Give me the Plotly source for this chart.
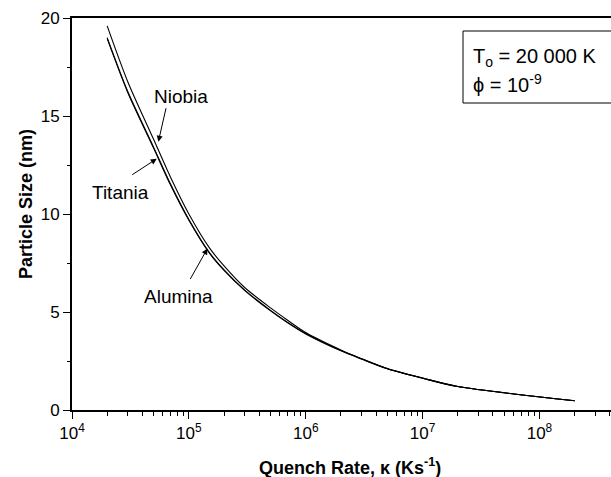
import plotly.graph_objects as go

# Quench rate (K/s)
kappa = [2e4, 3e4, 5e4, 7e4, 1e5, 1.5e5, 2e5, 3e5, 5e5, 7e5,
         1e6, 2e6, 3e6, 5e6, 1e7, 2e7, 2e8]
# Particle size (nm)
niobia = [19.6, 16.75, 13.8, 11.85, 10.0, 8.27, 7.35, 6.25, 5.21, 4.58,
          3.95, 3.06, 2.62, 2.11, 1.63, 1.2, 0.47]
titania = [19.0, 16.25, 13.4, 11.5, 9.72, 8.03, 7.15, 6.12, 5.08, 4.47,
           3.9, 3.03, 2.61, 2.105, 1.625, 1.197, 0.47]
alumina = [18.95, 16.2, 13.35, 11.45, 9.68, 8.0, 7.12, 6.1, 5.06, 4.45,
           3.88, 3.02, 2.6, 2.1, 1.62, 1.195, 0.47]

xtick_vals = [1e4, 1e5, 1e6, 1e7, 1e8]
xtick_text = ["10<sup>4</sup>", "10<sup>5</sup>", "10<sup>6</sup>",
              "10<sup>7</sup>", "10<sup>8</sup>"]
ytick_vals = [0, 5, 10, 15, 20]

FONT = "Arial, Liberation Sans, sans-serif"

fig = go.Figure()
for name, ys in [("Niobia", niobia), ("Titania", titania), ("Alumina", alumina)]:
    fig.add_trace(go.Scatter(x=kappa, y=ys, mode="lines", name=name,
                             line=dict(color="black", width=1.1, shape="spline", smoothing=0.8)))

W, H = 611, 477
L, R, T, B = 72, 0, 18, 67
pw, ph = W - L - R, H - T - B

def px2paper(px, py):
    return (px - L) / pw, (H - B - py) / ph

fig.update_layout(
    width=W, height=H,
    margin=dict(l=L, r=R, t=T, b=B, pad=0),
    plot_bgcolor="white", paper_bgcolor="white",
    showlegend=False,
    font=dict(family=FONT, size=16, color="black"),
    xaxis=dict(type="log", range=[4, 8.612], tickvals=xtick_vals, ticktext=xtick_text,
               ticks="outside", ticklen=7, tickwidth=1.3, tickcolor="black",
               showline=True, linecolor="black", linewidth=2, mirror=True,
               showgrid=False, zeroline=False,
               tickfont=dict(size=17, family=FONT),
               minor=dict(ticks="outside", ticklen=4, tickwidth=1.3, tickcolor="black",
                          showgrid=False, dtick="D1")),
    yaxis=dict(range=[0, 20], tickvals=ytick_vals,
               ticks="outside", ticklen=7, tickwidth=1.3, tickcolor="black",
               showline=True, linecolor="black", linewidth=2, mirror=False,
               showgrid=False, zeroline=False,
               tickfont=dict(size=17, family=FONT),
               minor=dict(ticks="outside", ticklen=3, tickwidth=1.3, tickcolor="black",
                          dtick=2.5, showgrid=False)),
)

annots = []
# axis titles
x, y = px2paper(350, 466)
annots.append(dict(text="<b>Quench Rate, κ (Ks<sup>-1</sup>)</b>", xref="paper", yref="paper",
                   x=x, y=y, xanchor="center", yanchor="middle", showarrow=False,
                   font=dict(size=18, family=FONT)))
x, y = px2paper(26, 204)
annots.append(dict(text="<b>Particle Size (nm)</b>", xref="paper", yref="paper",
                   x=x, y=y, xanchor="center", yanchor="middle", showarrow=False,
                   textangle=-90, font=dict(size=18, family=FONT)))

# curve labels with arrows (tip positions in data coords; log10 for x)
labels = [("Niobia", 4.739, 13.69, 8, -35, 181, 96),
          ("Titania", 4.725, 12.82, -26, 17, 120, 192),
          ("Alumina", 5.159, 8.24, -18, 32, 178, 296)]
for text, lx, ly, ax, ay, tx, ty in labels:
    annots.append(dict(x=lx, y=ly, xref="x", yref="y", text="", showarrow=True,
                       ax=ax, ay=ay, arrowhead=2, arrowsize=1.2, arrowwidth=1,
                       arrowcolor="black", standoff=0))
    px_, py_ = px2paper(tx, ty)
    annots.append(dict(text=text, xref="paper", yref="paper", x=px_, y=py_,
                       xanchor="center", yanchor="middle", showarrow=False,
                       font=dict(size=19, family=FONT)))

# info box text
x, y = px2paper(471, 57)
annots.append(dict(text="T<sub>o</sub> = 20 000 K", xref="paper", yref="paper", x=x, y=y,
                   xanchor="left", yanchor="middle", showarrow=False, font=dict(size=20, family=FONT)))
x, y = px2paper(471, 83)
annots.append(dict(text="ϕ = 10<sup>-9</sup>", xref="paper", yref="paper", x=x, y=y,
                   xanchor="left", yanchor="middle", showarrow=False, font=dict(size=20, family=FONT)))
fig.update_layout(annotations=annots)

x0, y0 = px2paper(463, 103)
x1, y1 = px2paper(W + 2, 31)
fig.add_shape(type="rect", xref="paper", yref="paper", x0=x0, y0=y0, x1=x1, y1=y1,
              line=dict(color="black", width=1), fillcolor="rgba(0,0,0,0)")

fig.write_html("out.html", config={"displayModeBar": False},
               post_script="document.body.style.margin='0';document.body.style.overflow='hidden';")
